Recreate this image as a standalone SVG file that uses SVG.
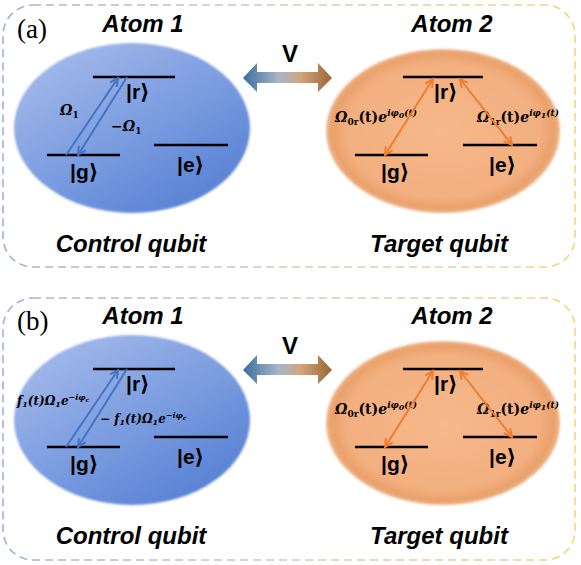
<svg xmlns="http://www.w3.org/2000/svg" width="581" height="565" viewBox="0 0 581 565">
<defs>
<style>
.box{fill:none;stroke:url(#boxGrad);stroke-width:1.6;stroke-dasharray:8 5}
.title{font-family:"Liberation Sans",Arial,sans-serif;font-weight:bold;font-style:italic;font-size:24px;fill:#000;text-anchor:middle}
.tag{font-family:"Liberation Serif","Times New Roman",serif;font-size:27px;fill:#000}
.ket{font-family:"Liberation Sans","DejaVu Sans",sans-serif;font-weight:bold;font-size:21px;fill:#000}
.lvl{stroke:#000;stroke-width:2.6}
.m{font-family:"DejaVu Serif",serif;font-weight:bold;font-style:italic;font-size:14px;fill:#000}
.m2{font-family:"DejaVu Serif",serif;font-weight:bold;font-style:italic;font-size:12px;fill:#000}
.up{font-style:normal}
.s{font-size:9px}
.ss{font-size:8px}
.blue{stroke:#4472c4;stroke-width:2;fill:none}
.orng{stroke:#ed7d31;stroke-width:2;fill:none}
.vtxt{font-family:"Liberation Sans",Arial,sans-serif;font-weight:bold;font-size:24px;fill:#000;text-anchor:middle}
</style>
<linearGradient id="boxGrad" x1="0" y1="0" x2="1" y2="0">
<stop offset="0" stop-color="#9fb1dc"/>
<stop offset="0.5" stop-color="#dcc6bc"/>
<stop offset="1" stop-color="#f6d57a"/>
</linearGradient>
<linearGradient id="blueGrad" x1="0.15" y1="0.1" x2="0.85" y2="0.95">
<stop offset="0" stop-color="#a0b7e9"/>
<stop offset="0.5" stop-color="#7b9ce0"/>
<stop offset="1" stop-color="#5580d3"/>
</linearGradient>
<radialGradient id="orGrad" cx="0.5" cy="0.5" r="0.5">
<stop offset="0" stop-color="#f6b98b"/>
<stop offset="0.82" stop-color="#f3af80"/>
<stop offset="0.95" stop-color="#e9a16b"/>
<stop offset="1" stop-color="#f0b68c"/>
</radialGradient>
<linearGradient id="vGrad" x1="0" y1="0" x2="1" y2="0">
<stop offset="0" stop-color="#3b6e9f"/>
<stop offset="0.4" stop-color="#a8b6c9"/>
<stop offset="0.65" stop-color="#d2a47c"/>
<stop offset="1" stop-color="#9a6634"/>
</linearGradient>
<filter id="soft" x="-5%" y="-5%" width="110%" height="110%">
<feGaussianBlur stdDeviation="1.2"/>
</filter>
<marker id="hb" markerWidth="12" markerHeight="12" refX="9" refY="5" orient="auto-start-reverse" markerUnits="userSpaceOnUse" viewBox="0 0 12 10">
<path d="M1,1 L9,5 L1,9" fill="none" stroke="#4472c4" stroke-width="2"/>
</marker>
<marker id="ho" markerWidth="12" markerHeight="12" refX="9" refY="5" orient="auto-start-reverse" markerUnits="userSpaceOnUse" viewBox="0 0 12 10">
<path d="M1,1 L9,5 L1,9" fill="none" stroke="#ed7d31" stroke-width="2"/>
</marker>
</defs>
<rect width="581" height="565" fill="#fff"/>

<!-- Panel (a) -->
<g id="panel-a">
<rect class="box" x="3" y="5" width="572" height="262" rx="30" ry="30"/>
<text class="tag" x="17" y="38">(a)</text>
<g id="atom1-a">
<ellipse cx="132" cy="128" rx="118" ry="85" fill="url(#blueGrad)" filter="url(#soft)"/>
<text class="title" x="143" y="32">Atom 1</text>
<line class="lvl" x1="93" y1="77" x2="175" y2="77"/>
<line class="lvl" x1="47" y1="155" x2="120" y2="155"/>
<line class="lvl" x1="154" y1="145" x2="228" y2="145"/>
<text class="ket" x="126" y="99">|r⟩</text>
<text class="ket" x="70" y="179">|g⟩</text>
<text class="ket" x="177" y="172">|e⟩</text>
<text class="m" x="60" y="115">Ω<tspan class="s up" dy="3">1</tspan></text>
<text class="m" x="111" y="131">−Ω<tspan class="s up" dy="3">1</tspan></text>
<text class="title" x="131" y="252">Control qubit</text>
</g>
<g id="atom2-a">
<ellipse cx="443" cy="131" rx="117" ry="82" fill="url(#orGrad)" filter="url(#soft)"/>
<text class="title" x="452" y="32">Atom 2</text>
<line class="lvl" x1="403" y1="77" x2="483" y2="77"/>
<line class="lvl" x1="355" y1="155" x2="428" y2="155"/>
<line class="lvl" x1="463" y1="145" x2="537" y2="145"/>
<text class="ket" x="434" y="99">|r⟩</text>
<text class="ket" x="381" y="179">|g⟩</text>
<text class="ket" x="489" y="172">|e⟩</text>
<text class="m" x="335" y="122">Ω<tspan class="s up" dy="3">0r</tspan><tspan class="up" dy="-3">(t)</tspan>e<tspan class="s" dy="-6">iφ</tspan><tspan class="ss" dy="2">0</tspan><tspan class="s" dy="-2">(t)</tspan></text>
<text class="m" x="477" y="122">Ω<tspan class="s up" dy="3">1r</tspan><tspan class="up" dy="-3">(t)</tspan>e<tspan class="s" dy="-6">iφ</tspan><tspan class="ss" dy="2">1</tspan><tspan class="s" dy="-2">(t)</tspan></text>
<text class="title" x="439" y="252">Target qubit</text>
</g>
</g>

<!-- Panel (b) -->
<g id="panel-b" transform="translate(0,292)">
<rect class="box" x="3" y="6" width="572" height="262" rx="30" ry="30"/>
<text class="tag" x="17" y="38">(b)</text>
<g id="atom1-b">
<ellipse cx="132" cy="128" rx="118" ry="85" fill="url(#blueGrad)" filter="url(#soft)"/>
<text class="title" x="143" y="32">Atom 1</text>
<line class="lvl" x1="93" y1="77" x2="175" y2="77"/>
<line class="lvl" x1="47" y1="155" x2="120" y2="155"/>
<line class="lvl" x1="154" y1="145" x2="228" y2="145"/>
<text class="ket" x="126" y="99">|r⟩</text>
<text class="ket" x="70" y="179">|g⟩</text>
<text class="ket" x="177" y="172">|e⟩</text>
<text class="m2" x="17" y="113">f<tspan class="ss" dy="2">1</tspan><tspan dy="-2">(t)</tspan>Ω<tspan class="ss" dy="2">1</tspan><tspan dy="-2">e</tspan><tspan class="ss" dy="-5">−iφ</tspan><tspan font-size="6px" dy="2">c</tspan></text>
<text class="m2" x="100" y="131">− f<tspan class="ss" dy="2">1</tspan><tspan dy="-2">(t)</tspan>Ω<tspan class="ss" dy="2">1</tspan><tspan dy="-2">e</tspan><tspan class="ss" dy="-5">−iφ</tspan><tspan font-size="6px" dy="2">c</tspan></text>
<text class="title" x="131" y="252">Control qubit</text>
</g>
<g id="atom2-b">
<ellipse cx="443" cy="131" rx="117" ry="82" fill="url(#orGrad)" filter="url(#soft)"/>
<text class="title" x="452" y="32">Atom 2</text>
<line class="lvl" x1="403" y1="77" x2="483" y2="77"/>
<line class="lvl" x1="355" y1="155" x2="428" y2="155"/>
<line class="lvl" x1="463" y1="145" x2="537" y2="145"/>
<text class="ket" x="434" y="99">|r⟩</text>
<text class="ket" x="381" y="179">|g⟩</text>
<text class="ket" x="489" y="172">|e⟩</text>
<text class="m" x="335" y="122">Ω<tspan class="s up" dy="3">0r</tspan><tspan class="up" dy="-3">(t)</tspan>e<tspan class="s" dy="-6">iφ</tspan><tspan class="ss" dy="2">0</tspan><tspan class="s" dy="-2">(t)</tspan></text>
<text class="m" x="477" y="122">Ω<tspan class="s up" dy="3">1r</tspan><tspan class="up" dy="-3">(t)</tspan>e<tspan class="s" dy="-6">iφ</tspan><tspan class="ss" dy="2">1</tspan><tspan class="s" dy="-2">(t)</tspan></text>
<text class="title" x="439" y="252">Target qubit</text>
</g>
</g>

<!-- Connectors -->
<g id="connectors">
<g id="conn-a">
<line class="blue" x1="66" y1="155" x2="118" y2="78" marker-end="url(#hb)"/>
<line class="blue" x1="127" y1="77" x2="78" y2="155" marker-end="url(#hb)"/>
<line class="orng" x1="433" y1="79" x2="385" y2="155" marker-start="url(#ho)" marker-end="url(#ho)"/>
<line class="orng" x1="460" y1="79" x2="512" y2="145" marker-start="url(#ho)" marker-end="url(#ho)"/>
<polygon points="243,78 257,63 257,72 318,72 318,63 332,78 318,92 318,83 257,83 257,92" fill="url(#vGrad)"/>
<text class="vtxt" x="290" y="62">V</text>
</g>
<g id="conn-b" transform="translate(0,292)">
<line class="blue" x1="66" y1="155" x2="118" y2="78" marker-end="url(#hb)"/>
<line class="blue" x1="127" y1="77" x2="78" y2="155" marker-end="url(#hb)"/>
<line class="orng" x1="433" y1="79" x2="385" y2="155" marker-start="url(#ho)" marker-end="url(#ho)"/>
<line class="orng" x1="460" y1="79" x2="512" y2="145" marker-start="url(#ho)" marker-end="url(#ho)"/>
<polygon points="243,78 257,63 257,72 318,72 318,63 332,78 318,92 318,83 257,83 257,92" fill="url(#vGrad)"/>
<text class="vtxt" x="290" y="62">V</text>
</g>
</g>
</svg>
